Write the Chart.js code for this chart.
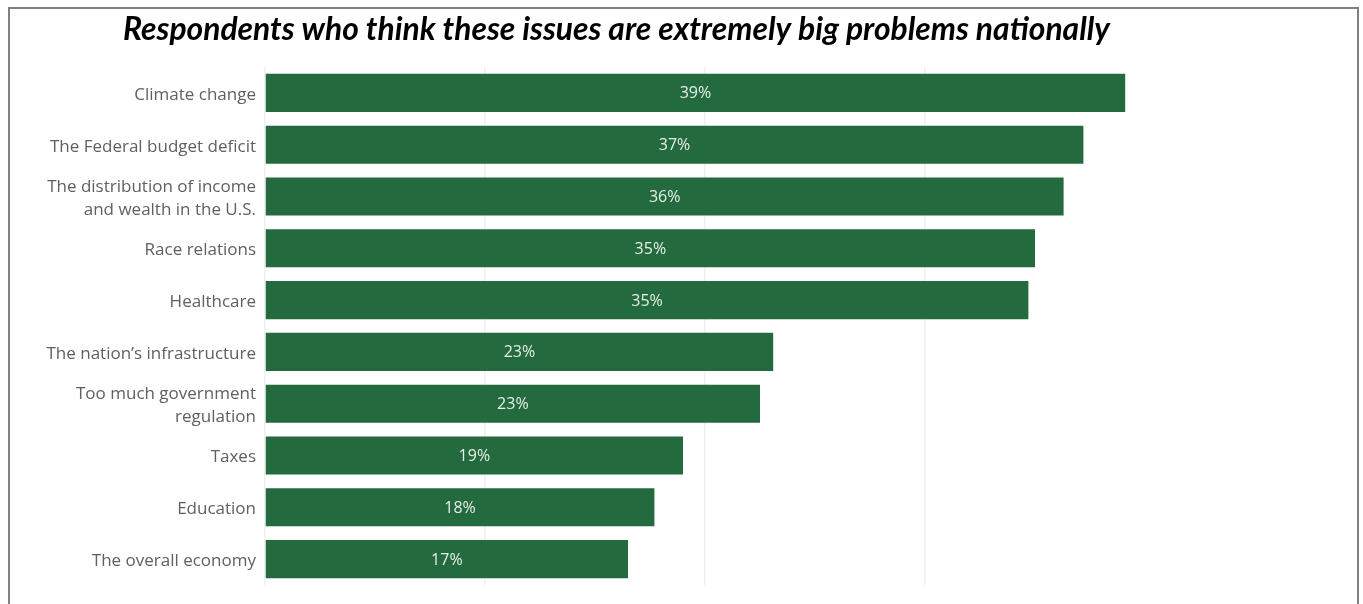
<!DOCTYPE html>
<html>
<head>
<meta charset="utf-8">
<script src="https://cdn.jsdelivr.net/npm/chart.js@4/dist/chart.umd.min.js"></script>
<style>
  html, body { margin: 0; padding: 0; background: #fff; overflow: hidden; }
  #frame {
    position: absolute; left: 8px; top: 7px; width: 1347px; height: 620px;
    border: 2px solid #808080; border-bottom: none;
  }
  #wrap { position: absolute; left: 0; top: 0; width: 1363px; height: 604px; }
</style>
</head>
<body>
<div id="frame"></div>
<div id="wrap"><canvas id="issuesChart" width="1363" height="604"></canvas></div>
<script>
const chartTitle = 'Respondents who think these issues are extremely big problems nationally';

const issues = [
    'Climate change',
    'The Federal budget deficit',
    ['The distribution of income', 'and wealth in the U.S.'],
    'Race relations',
    'Healthcare',
    'The nation\u2019s infrastructure',
    ['Too much government', 'regulation'],
    'Taxes',
    'Education',
    'The overall economy'
];

// share of respondents, percent
const extremelyBig = [39.1, 37.2, 36.3, 35.0, 34.7, 23.1, 22.5, 19.0, 17.7, 16.5];

const barColor = '#246a3f';
const labelFont = '"Open Sans", sans-serif';

// title drawn above the plot, sized to span 987px
const titlePlugin = {
    id: 'titleText',
    afterDraw(chart) {
        const ctx = chart.ctx;
        ctx.save();
        ctx.font = 'italic bold 30px Lato, sans-serif';
        const size = 30 * 987 / ctx.measureText(chartTitle).width;
        ctx.font = 'italic bold ' + size.toFixed(2) + 'px Lato, sans-serif';
        ctx.fillStyle = '#000';
        ctx.textAlign = 'center';
        ctx.textBaseline = 'alphabetic';
        ctx.fillText(chartTitle, 616.5, 40);
        ctx.restore();
    }
};

// percentage written in the middle of each bar
const barLabels = {
    id: 'barLabels',
    afterDatasetsDraw(chart) {
        const ctx = chart.ctx;
        const meta = chart.getDatasetMeta(0);
        ctx.save();
        ctx.font = '16px ' + labelFont;
        ctx.fillStyle = '#e6efe7';
        ctx.textAlign = 'center';
        ctx.textBaseline = 'middle';
        meta.data.forEach((bar, i) => {
            const v = chart.data.datasets[0].data[i];
            ctx.fillText(Math.round(v) + '%', (bar.x + bar.base) / 2, bar.y + 1);
        });
        ctx.restore();
    }
};

new Chart(document.getElementById('issuesChart'), {
    type: 'bar',
    data: {
        labels: issues,
        datasets: [{
            data: extremelyBig,
            backgroundColor: barColor,
            borderWidth: 0,
            barPercentage: 0.735,
            categoryPercentage: 1
        }]
    },
    options: {
        indexAxis: 'y',
        responsive: false,
        animation: false,
        layout: { padding: { top: 67, bottom: 19, right: 218, left: 0 } },
        plugins: {
            legend: { display: false },
            tooltip: { enabled: false }
        },
        scales: {
            x: {
                min: 0,
                max: 40,
                ticks: { display: false, stepSize: 10 },
                border: { display: false },
                grid: {
                    drawTicks: false,
                    color: ctx => ctx.tick && ctx.tick.value === 40 ? 'rgba(0,0,0,0)' : '#f0f0f0',
                    lineWidth: 1.5
                }
            },
            y: {
                border: { display: false },
                grid: { display: false },
                afterFit(scale) { scale.width = 265; },
                ticks: {
                    padding: 1,
                    labelOffset: 2,
                    color: '#606060',
                    font: { family: labelFont, size: 17, lineHeight: 1.35 },
                    autoSkip: false
                }
            }
        }
    },
    plugins: [titlePlugin, barLabels]
});
</script>
</body>
</html>
